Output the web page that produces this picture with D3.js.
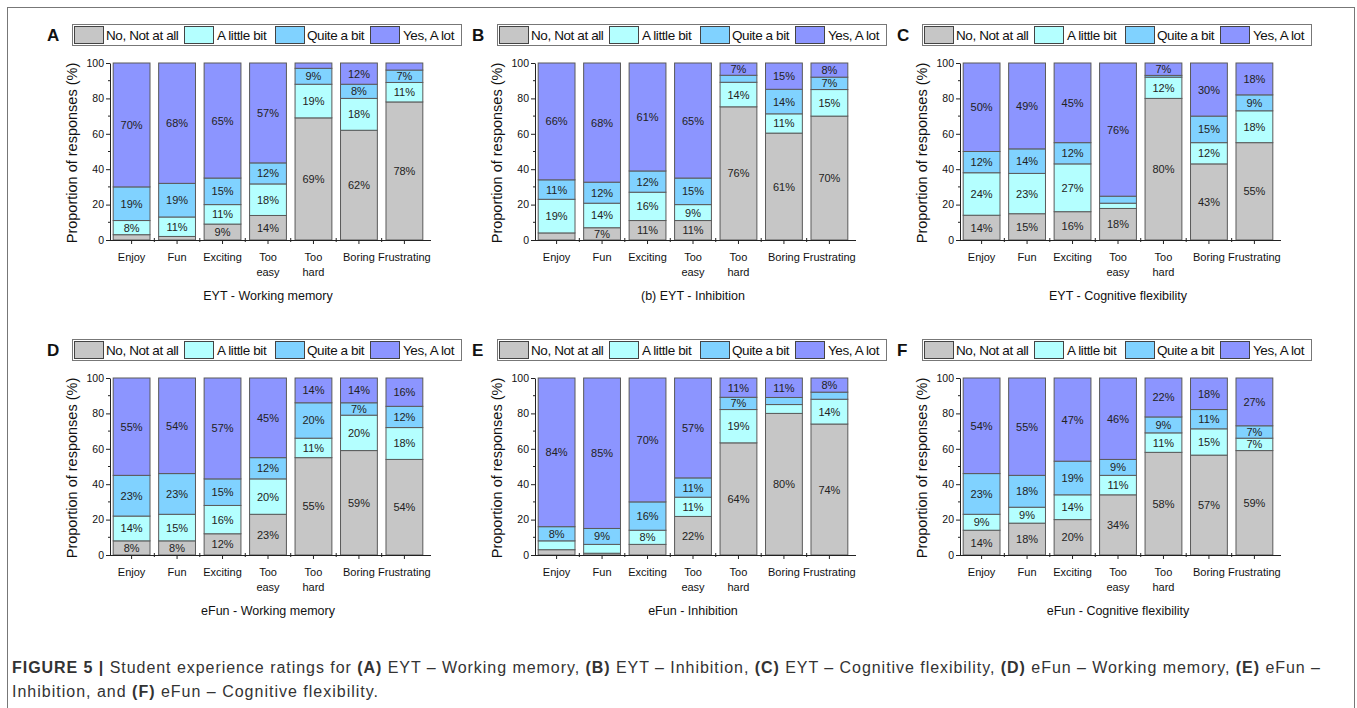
<!DOCTYPE html>
<html lang="en">
<head>
  <meta charset="UTF-8">
  <title>Student experience ratings</title>
  <script src="https://cdnjs.cloudflare.com/ajax/libs/d3/7.8.5/d3.min.js"></script>
  <style>
    body { margin: 0; background: #fff; }
    text { font-family: "Liberation Sans", Arial, sans-serif; }
  </style>
</head>
<body>
  <svg width="1357" height="708"></svg>
  <script>
    // categories on the x axis, response levels stacked bottom -> top
    const categories = ["Enjoy", "Fun", "Exciting", "Too easy", "Too hard", "Boring", "Frustrating"];
    const responseLevels = ["No, Not at all", "A little bit", "Quite a bit", "Yes, A lot"];
    const levelColors = ["#c6c6c6", "#b4ffff", "#80d2ff", "#8c95ff"];
    const yTicks = [0, 20, 40, 60, 80, 100];

    // each row: [No, A little bit, Quite a bit, Yes] in % (rounded, as printed)
    const eytWorkingMemory = [[3, 8, 19, 70], [2, 11, 19, 68], [9, 11, 15, 65], [14, 18, 12, 57], [69, 19, 9, 3], [62, 18, 8, 12], [78, 11, 7, 4]];
    const eytInhibition = [[4, 19, 11, 66], [7, 14, 12, 68], [11, 16, 12, 61], [11, 9, 15, 65], [76, 14, 4, 7], [61, 11, 14, 15], [70, 15, 7, 8]];
    const eytCognitive = [[14, 24, 12, 50], [15, 23, 14, 49], [16, 27, 12, 45], [18, 3, 4, 76], [80, 12, 1, 7], [43, 12, 15, 30], [55, 18, 9, 18]];
    const efunWorkingMemory = [[8, 14, 23, 55], [8, 15, 23, 54], [12, 16, 15, 57], [23, 20, 12, 45], [55, 11, 20, 14], [59, 20, 7, 14], [54, 18, 12, 16]];
    const efunInhibition = [[3, 5, 8, 84], [1, 5, 9, 85], [6, 8, 16, 70], [22, 11, 11, 57], [64, 19, 7, 11], [80, 5, 4, 11], [74, 14, 4, 8]];
    const efunCognitive = [[14, 9, 23, 54], [18, 9, 18, 55], [20, 14, 19, 47], [34, 11, 9, 46], [58, 11, 9, 22], [57, 15, 11, 18], [59, 7, 7, 27]];

    const panels = [
      { letter: "A", title: "EYT - Working memory", values: eytWorkingMemory, col: 0, row: 0 },
      { letter: "B", title: "(b) EYT - Inhibition", values: eytInhibition, col: 1, row: 0 },
      { letter: "C", title: "EYT - Cognitive flexibility", values: eytCognitive, col: 2, row: 0 },
      { letter: "D", title: "eFun - Working memory", values: efunWorkingMemory, col: 0, row: 1 },
      { letter: "E", title: "eFun - Inhibition", values: efunInhibition, col: 1, row: 1 },
      { letter: "F", title: "eFun - Cognitive flexibility", values: efunCognitive, col: 2, row: 1 }
    ];

    const svg = d3.select("svg");
    svg.append("rect").attr("width", 1357).attr("height", 708).attr("fill", "#fff");

    // outer frame
    svg.append("rect")
      .attr("x", 7.5).attr("y", 7.5).attr("width", 1347).attr("height", 720)
      .attr("fill", "none").attr("stroke", "#777").attr("stroke-width", 1);

    const x = d3.scaleBand().domain(categories).range([110, 426]).paddingInner(0.19).paddingOuter(0.07);
    const y = d3.scaleLinear().domain([0, 100]).range([240, 63]);
    // printed percentages are rounded, so bars are normalised to a full 100%
    const stack = d3.stack().keys([0, 1, 2, 3]).offset(d3.stackOffsetExpand);

    panels.forEach(p => {
      const g = svg.append("g").attr("transform", `translate(${p.col * 425},${p.row * 315})`);

      // panel letter
      g.append("text").attr("x", 47).attr("y", 41)
        .attr("font-size", 17).attr("font-weight", "bold").attr("fill", "#111")
        .text(p.letter);

      // legend
      const lg = g.append("g");
      lg.append("rect").attr("x", 72.5).attr("y", 24.5).attr("width", 389).attr("height", 21)
        .attr("fill", "#fff").attr("stroke", "#777");
      const swX = [74, 184, 275, 370];
      const txX = [106, 217, 307, 403];
      responseLevels.forEach((lvl, i) => {
        lg.append("rect").attr("x", swX[i] + 0.5).attr("y", 26.5).attr("width", 29).attr("height", 17)
          .attr("fill", levelColors[i]).attr("stroke", "#444");
        lg.append("text").attr("x", txX[i]).attr("y", 40).attr("font-size", 13.5)
          .attr("letter-spacing", -0.4).attr("fill", "#111").text(lvl);
      });

      // stacked bars
      const rows = p.values.map((v, i) => Object.assign({ cat: categories[i] }, v));
      const series = stack(rows);
      series.forEach((s, k) => {
        g.append("g").selectAll("rect").data(s).join("rect")
          .attr("x", d => x(d.data.cat))
          .attr("y", d => y(d[1] * 100))
          .attr("width", x.bandwidth())
          .attr("height", d => y(d[0] * 100) - y(d[1] * 100))
          .attr("fill", levelColors[k])
          .attr("stroke", "#5a5a5a").attr("stroke-width", 1);
      });
      // percent labels (small segments are left unlabelled)
      series.forEach((s, k) => {
        g.append("g").selectAll("text").data(s.filter(d => d.data[k] >= 7)).join("text")
          .attr("x", d => x(d.data.cat) + x.bandwidth() / 2)
          .attr("y", d => y((d[0] + d[1]) * 50) + 4)
          .attr("text-anchor", "middle").attr("font-size", 11).attr("fill", "#222")
          .text(d => `${d.data[k]}%`);
      });

      // y axis
      const yAxis = g.append("g").attr("transform", "translate(110,0)")
        .call(d3.axisLeft(y).tickValues(yTicks).tickSize(4).tickSizeOuter(0));
      yAxis.selectAll(".tick text").attr("font-size", 10.5).attr("fill", "#111").attr("x", -6);
      yAxis.selectAll(".tick line").attr("stroke", "#222");
      yAxis.select(".domain").attr("stroke", "#222");
      g.append("g").selectAll("line").data(d3.range(10, 100, 20)).join("line")
        .attr("x1", 108).attr("x2", 110).attr("y1", d => y(d)).attr("y2", d => y(d))
        .attr("stroke", "#222");

      // x axis
      g.append("line").attr("x1", 108).attr("x2", 431).attr("y1", 240.5).attr("y2", 240.5).attr("stroke", "#222");
      g.append("g").selectAll("line").data(categories).join("line")
        .attr("x1", d => x(d) + x.bandwidth() / 2).attr("x2", d => x(d) + x.bandwidth() / 2)
        .attr("y1", 240).attr("y2", 244).attr("stroke", "#222");
      g.append("g").selectAll("line").data(categories.slice(1)).join("line")
        .attr("x1", d => x(d) - x.step() * 0.095).attr("x2", d => x(d) - x.step() * 0.095)
        .attr("y1", 238).attr("y2", 242).attr("stroke", "#222");
      const xl = g.append("g").selectAll("text").data(categories).join("text")
        .attr("x", d => x(d) + x.bandwidth() / 2)
        .attr("y", 260.5)
        .attr("text-anchor", "middle").attr("font-size", 11).attr("fill", "#111");
      xl.each(function (d) {
        const parts = d.split(" ");
        const t = d3.select(this);
        parts.forEach((w, i) => {
          t.append("tspan").attr("x", x(d) + x.bandwidth() / 2).attr("dy", i === 0 ? 0 : 15).text(w);
        });
      });

      // axis titles
      g.append("text").attr("x", 268).attr("y", 299.5).attr("text-anchor", "middle")
        .attr("font-size", 12.5).attr("fill", "#111").text(p.title);
      g.append("text").attr("transform", "translate(77,153) rotate(-90)")
        .attr("text-anchor", "middle").attr("font-size", 14.5).attr("fill", "#111")
        .text("Proportion of responses (%)");
    });

    // caption
    const cap1 = svg.append("text").attr("x", 12).attr("y", 673).attr("font-size", 16).attr("fill", "#333")
      .attr("textLength", 1308).attr("lengthAdjust", "spacing");
    const cap2 = svg.append("text").attr("x", 12).attr("y", 697).attr("font-size", 16).attr("fill", "#333")
      .attr("textLength", 366).attr("lengthAdjust", "spacing");
    const line1 = [["FIGURE 5 | ", true], ["Student experience ratings for ", false], ["(A)", true], [" EYT – Working memory, ", false],
      ["(B)", true], [" EYT – Inhibition, ", false], ["(C)", true], [" EYT – Cognitive flexibility, ", false],
      ["(D)", true], [" eFun – Working memory, ", false], ["(E)", true], [" eFun –", false]];
    const line2 = [["Inhibition, and ", false], ["(F)", true], [" eFun – Cognitive flexibility.", false]];
    line1.forEach(([t, b]) => cap1.append("tspan").attr("font-weight", b ? "bold" : null).text(t));
    line2.forEach(([t, b]) => cap2.append("tspan").attr("font-weight", b ? "bold" : null).text(t));
  </script>
</body>
</html>
